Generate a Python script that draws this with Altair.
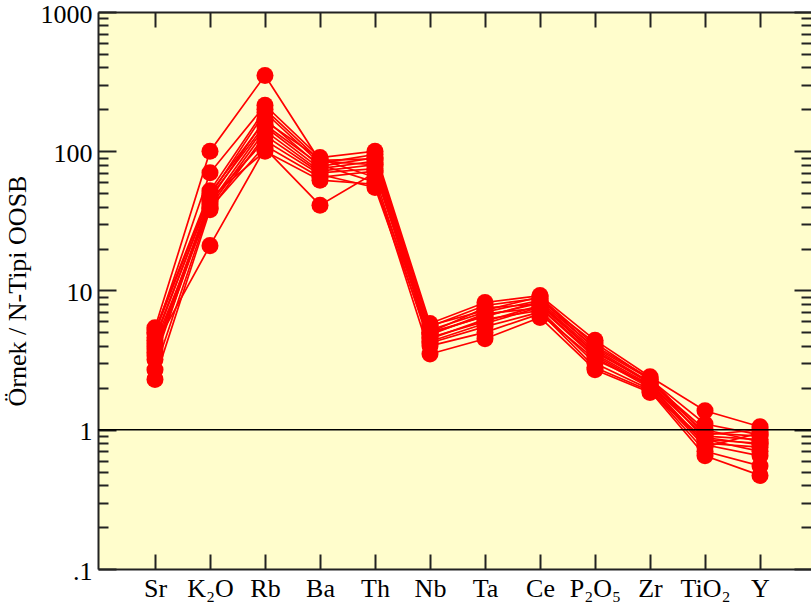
import altair as alt
import pandas as pd

elements = ["Sr", "K₂O", "Rb", "Ba", "Th", "Nb", "Ta", "Ce", "P₂O₅", "Zr", "TiO₂", "Y"]

s01 = [5.4, 100, 350, 85, 80, 5.2, 7.0, 8.5, 4.2, 2.30, 0.85, 0.80]
s02 = [4.9, 70, 214, 90, 100, 5.8, 8.2, 9.2, 4.4, 2.40, 1.37, 1.05]
s03 = [4.4, 48, 190, 82, 95, 5.5, 7.8, 8.8, 3.8, 2.20, 0.95, 0.90]
s04 = [3.8, 45, 170, 78, 90, 5.0, 7.5, 8.0, 3.5, 2.10, 0.80, 0.75]
s05 = [3.4, 42, 150, 75, 85, 4.8, 6.8, 7.5, 3.3, 2.00, 0.75, 0.95]
s06 = [2.7, 40, 140, 72, 80, 4.5, 6.2, 7.2, 3.0, 1.95, 0.70, 0.55]
s07 = [2.3, 38, 130, 70, 75, 4.2, 5.5, 7.0, 2.8, 1.90, 0.65, 0.47]
s08 = [5.0, 50, 165, 88, 65, 4.0, 5.0, 6.8, 3.2, 2.10, 0.90, 0.85]
s09 = [4.6, 47, 155, 80, 60, 3.5, 4.5, 6.4, 2.7, 1.85, 0.85, 0.70]
s10 = [4.0, 21, 105, 41, 70, 4.6, 6.0, 7.8, 3.6, 2.20, 1.00, 0.82]
s11 = [3.6, 44, 120, 68, 55, 4.3, 5.8, 7.6, 3.4, 2.05, 0.78, 0.65]
s12 = [3.2, 46, 100, 62, 58, 5.0, 6.5, 8.3, 3.9, 2.30, 1.10, 0.92]
s13 = [5.2, 52, 200, 86, 88, 5.6, 7.2, 9.0, 4.0, 2.35, 0.92, 1.00]
s14 = [4.2, 39, 110, 65, 72, 4.9, 6.6, 8.1, 3.7, 2.15, 0.88, 0.78]

samples = [s01, s02, s03, s04, s05, s06, s07, s08, s09, s10, s11, s12, s13, s14]

major_ticks = [0.1, 1, 10, 100, 1000]
minor_ticks = [m * d for d in [0.1, 1, 10, 100] for m in range(2, 10)]

rows = []
for si, s in enumerate(samples):
    for i, v in enumerate(s):
        rows.append({"sample": f"S{si+1}", "idx": i, "value": v})
df = pd.DataFrame(rows)

FONT = "Liberation Serif"
DARK = "#222222"

xscale = alt.Scale(domain=[-1.036, 11.927], nice=False, zero=False)
yscale = alt.Scale(type="log", domain=[0.1, 1000], nice=False)

x_label_expr = "[" + ",".join(f"'{e}'" for e in elements) + "][datum.value]"
y_label_expr = "datum.value < 1 ? '.1' : format(datum.value, 'd')"

common = dict(grid=False, labelFlush=False, labelOverlap=False, tickColor=DARK,
              tickWidth=2, domainColor=DARK, domainWidth=2)

# Axes
ax_x_bottom_labels = alt.Axis(orient="bottom", values=list(range(12)), offset=-15, tickSize=15,
                              domain=False, labelExpr=x_label_expr, labelFont=FONT,
                              labelFontSize=26, labelColor="black", labelPadding=6,
                              title=None, **common)
ax_x_top_ticks = alt.Axis(orient="top", values=list(range(12)), offset=-15, tickSize=15,
                          domain=False, labels=False, title=None, **common)
ax_x_bottom_domain = alt.Axis(orient="bottom", domain=True, ticks=False, labels=False,
                              title=None, **common)
ax_x_top_domain = alt.Axis(orient="top", domain=True, ticks=False, labels=False,
                           title=None, **common)

ax_y_left_labels = alt.Axis(orient="left", values=major_ticks, offset=-18, tickSize=18,
                            domain=False, labelExpr=y_label_expr, labelFont=FONT,
                            labelFontSize=26, labelColor="black", labelPadding=6,
                            labelOffset=2,
                            title="Örnek / N-Tipi OOSB", titleFont=FONT, titleFontSize=26,
                            titleFontWeight="normal", titleColor="black", titlePadding=10,
                            **common)
ax_y_left_minor = alt.Axis(orient="left", values=minor_ticks, offset=-10, tickSize=10,
                           domain=False, labels=False, title=None, **common)
ax_y_right_major = alt.Axis(orient="right", values=major_ticks, offset=-17, tickSize=17,
                            domain=False, labels=False, title=None, **common)
ax_y_right_minor = alt.Axis(orient="right", values=minor_ticks, offset=-10, tickSize=10,
                            domain=False, labels=False, title=None, **common)
ax_y_left_domain = alt.Axis(orient="left", domain=True, ticks=False, labels=False,
                            title=None, **common)

base = alt.Chart(df)

lines = base.mark_line(color="#FF0000", strokeWidth=1.7).encode(
    x=alt.X("idx:Q", scale=xscale, axis=ax_x_bottom_labels),
    y=alt.Y("value:Q", scale=yscale, axis=ax_y_left_labels),
    detail="sample:N",
    order="idx:Q",
)

points = base.mark_circle(color="#FF0000", size=290, opacity=1).encode(
    x=alt.X("idx:Q", scale=xscale, axis=ax_x_top_ticks),
    y=alt.Y("value:Q", scale=yscale, axis=ax_y_left_minor),
)

inv1 = base.mark_point(opacity=0).encode(
    x=alt.X("idx:Q", scale=xscale, axis=ax_x_bottom_domain),
    y=alt.Y("value:Q", scale=yscale, axis=ax_y_right_major),
)
inv2 = base.mark_point(opacity=0).encode(
    x=alt.X("idx:Q", scale=xscale, axis=ax_x_top_domain),
    y=alt.Y("value:Q", scale=yscale, axis=ax_y_right_minor),
)
inv3 = base.mark_point(opacity=0).encode(
    x=alt.X("idx:Q", scale=xscale, axis=None),
    y=alt.Y("value:Q", scale=yscale, axis=ax_y_left_domain),
)

ref_df = pd.DataFrame({"ref": [1.0]})
rule = alt.Chart(ref_df).mark_rule(color="black", strokeWidth=1.5).encode(
    y=alt.Y("ref:Q", scale=yscale, axis=None)
)

chart = (
    alt.layer(lines, points, inv1, inv2, inv3, rule)
    .resolve_axis(x="independent", y="independent")
    .properties(
        width=713,
        height=557,
        autosize=alt.AutoSizeParams(type="none"),
        padding={"left": 98, "top": 12, "right": 0, "bottom": 44},
        background="white",
    )
    .configure(font=FONT)
    .configure_axis(labelFont=FONT, titleFont=FONT)
    .configure_view(stroke=None, fill="#FFFDCC")
)

chart.save("out.html", embed_options={"renderer": "svg", "actions": False})
